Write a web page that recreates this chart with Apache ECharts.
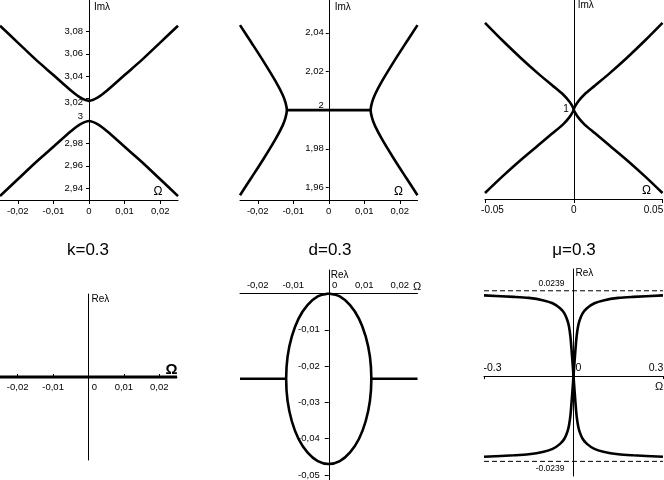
<!DOCTYPE html>
<html>
<head>
<meta charset="utf-8">
<script src="https://cdn.jsdelivr.net/npm/echarts@6/dist/echarts.min.js"></script>
<style>html,body{margin:0;padding:0;background:#fff}</style>
</head>
<body>
<div id="main" style="width:664px;height:480px"></div>
<script>
// top row: Im(lambda) against Omega
var omegaK = [-0.025, -0.02, -0.015, -0.01, -0.005, -0.0025, 0, 0.0025, 0.005, 0.01, 0.015, 0.02, 0.025];
var imUpperK = [3.085, 3.070, 3.055, 3.041, 3.027, 3.021, 3.018, 3.021, 3.027, 3.041, 3.055, 3.070, 3.085];
var imLowerK = [2.933, 2.948, 2.963, 2.977, 2.991, 2.997, 3.000, 2.997, 2.991, 2.977, 2.963, 2.948, 2.933];

var imD = [2.044, 2.035, 2.025, 2.015, 2.008, 2.004, 2.0, 1.996, 1.992, 1.985, 1.975, 1.965, 1.956];
var omegaDLeft = [-0.025, -0.0218, -0.0183, -0.0150, -0.0130, -0.0122, -0.0118, -0.0122, -0.0130, -0.0150, -0.0183, -0.0218, -0.025];
var omegaDRight = [0.025, 0.0218, 0.0183, 0.0150, 0.0130, 0.0122, 0.0118, 0.0122, 0.0130, 0.0150, 0.0183, 0.0218, 0.025];
var omegaDFlat = [-0.0118, 0.0118];
var imDFlat = [2, 2];

var imMu = [1.087, 1.069, 1.052, 1.036, 1.024, 1.015, 1.008, 1.003, 1.0, 0.997, 0.992, 0.985, 0.976, 0.964, 0.949, 0.933, 0.916];
var omegaMuLeft = [-0.05, -0.04, -0.03, -0.02, -0.012, -0.006, -0.0025, -0.0007, 0, -0.0007, -0.0025, -0.006, -0.012, -0.02, -0.03, -0.04, -0.05];
var omegaMuRight = [0.05, 0.04, 0.03, 0.02, 0.012, 0.006, 0.0025, 0.0007, 0, 0.0007, 0.0025, 0.006, 0.012, 0.02, 0.03, 0.04, 0.05];

// bottom row: Re(lambda) against Omega
var omegaKRe = [-0.025, 0.025];
var reK = [0, 0];

var omegaEll = [0, 0.0031, 0.006, 0.0085, 0.0104, 0.0116, 0.012, 0.0116, 0.0104, 0.0085, 0.006, 0.0031, 0,
  -0.0031, -0.006, -0.0085, -0.0104, -0.0116, -0.012, -0.0116, -0.0104, -0.0085, -0.006, -0.0031, 0];
var reEll = [0, -0.0008, -0.0032, -0.0069, -0.0118, -0.0174, -0.0235, -0.0296, -0.0352, -0.0401, -0.0438, -0.0462, -0.047,
  -0.0462, -0.0438, -0.0401, -0.0352, -0.0296, -0.0235, -0.0174, -0.0118, -0.0069, -0.0032, -0.0008, 0];
var omegaDFlatL = [-0.025, -0.012];
var omegaDFlatR = [0.012, 0.025];
var reDFlat = [-0.0235, -0.0235];

var omegaMu = [-0.3, -0.2, -0.15, -0.1, -0.07, -0.045, -0.03, -0.02, -0.015, -0.01, -0.006, -0.003, 0,
  0.003, 0.006, 0.01, 0.015, 0.02, 0.03, 0.045, 0.07, 0.1, 0.15, 0.2, 0.3];
var reMuA = [0.0226, 0.0222, 0.0219, 0.0212, 0.0204, 0.019, 0.0175, 0.0155, 0.0138, 0.0108, 0.0068, 0.0035, 0,
  -0.0035, -0.0068, -0.0108, -0.0138, -0.0155, -0.0175, -0.019, -0.0204, -0.0212, -0.0219, -0.0222, -0.0226];
var reMuB = [-0.0226, -0.0222, -0.0219, -0.0212, -0.0204, -0.019, -0.0175, -0.0155, -0.0138, -0.0108, -0.0068, -0.0035, 0,
  0.0035, 0.0068, 0.0108, 0.0138, 0.0155, 0.0175, 0.019, 0.0204, 0.0212, 0.0219, 0.0222, 0.0226];
var reMuLevel = [0.0239, -0.0239];
var omegaMuEnds = [-0.3, 0.3];

// tick labels
var ticksOmega = [-0.02, -0.01, 0, 0.01, 0.02];
var ticksImK = [2.94, 2.96, 2.98, 3, 3.02, 3.04, 3.06, 3.08];
var ticksImD = [1.96, 1.98, 2, 2.02, 2.04];
var ticksOmegaMu = [-0.05, 0, 0.05];
var ticksImMu = [1];
var ticksReD = [-0.05, -0.04, -0.03, -0.02, -0.01];
var ticksOmegaMuRe = [-0.3, 0, 0.3];

var titles = ['k=0.3', 'd=0.3', 'μ=0.3'];

var font = 'Liberation Sans, Arial, Helvetica, sans-serif';
var black = '#000';

function pairs(xs, ys) {
  return xs.map(function (x, i) { return [x, ys[i]]; });
}
function comma(v) {
  return String(v).replace('.', ',');
}
function rt(pad, size) {
  return { padding: pad, fontSize: size || 9.5, fontFamily: font, color: black };
}
function curve(xi, xs, ys, extra) {
  var s = {
    type: 'line', xAxisIndex: xi, yAxisIndex: xi,
    data: pairs(xs, ys), symbol: 'none', smooth: 0.3,
    lineStyle: { color: black, width: 2.6 },
    animation: false, silent: true
  };
  return Object.assign(s, extra || {});
}
function axis(grid, min, max, o) {
  var a = {
    gridIndex: grid, type: 'value', min: min, max: max,
    splitLine: { show: false },
    axisLine: { onZero: false, lineStyle: { color: black, width: 1 } },
    axisTick: { show: false },
    axisLabel: { show: false, color: black, fontFamily: font, fontSize: 9.5 },
    nameTextStyle: { color: black, fontFamily: font, fontSize: 10 }
  };
  for (var k in o) {
    if (typeof o[k] === 'object' && a[k] && !Array.isArray(o[k])) a[k] = Object.assign({}, a[k], o[k]);
    else a[k] = o[k];
  }
  return a;
}
var tickOn = function (vals, len, inside) {
  return { show: true, customValues: vals, length: len || 4, inside: !!inside, lineStyle: { color: black } };
};
var labelOn = function (vals, fmt, extra) {
  return Object.assign({ show: true, customValues: vals, formatter: fmt, color: black, fontFamily: font, fontSize: 9.5 }, extra || {});
};
var omegaName = function (gap, bottomPad, size, weight) {
  return { name: 'Ω', nameLocation: 'end', nameGap: gap,
    nameTextStyle: { color: black, fontFamily: font, fontSize: size || 12, fontWeight: weight || 'normal',
      align: 'center', verticalAlign: 'bottom', padding: [0, 0, bottomPad, 0] } };
};
var lamName = function (txt, gap, padLeft) {
  return { name: txt, nameLocation: 'end', nameGap: gap,
    nameTextStyle: { color: black, fontFamily: font, fontSize: 10, align: 'left', verticalAlign: 'middle', padding: [0, 0, 0, padLeft] } };
};

var zeroRich = { z: rt([0, 0, 0, 12]) };

var xAxes = [
  axis(0, -0.025, 0.025, Object.assign({
    axisTick: tickOn(ticksOmega, 4),
    axisLabel: labelOn(ticksOmega, comma, { margin: 6 })
  }, omegaName(-20, 2))),
  axis(1, -0.025, 0.025, Object.assign({
    axisTick: tickOn(ticksOmega, 4),
    axisLabel: labelOn(ticksOmega, comma, { margin: 6 })
  }, omegaName(-19, 2))),
  axis(2, -0.05, 0.05, Object.assign({
    axisTick: tickOn(ticksOmegaMu, 4),
    axisLabel: labelOn(ticksOmegaMu, function (v) {
      if (v < 0) return '{l|' + v + '}';
      if (v > 0) return '{r|' + v + '}';
      return '{c|0}';
    }, { margin: 6, rich: { l: rt([0, 0, 0, 15], 10), r: rt([0, 18, 0, 0], 10), c: rt([0, 0, 0, 0], 10) } })
  }, omegaName(-16, 2))),
  axis(3, -0.025, 0.025, Object.assign({
    offset: -83,
    axisTick: tickOn(ticksOmega, 3, true),
    axisLabel: labelOn(ticksOmega, function (v) { return v === 0 ? '{z|0}' : comma(v); }, { margin: 5, rich: zeroRich })
  }, omegaName(-5.5, 0, 15, 'bold'))),
  axis(4, -0.025, 0.025, Object.assign({
    position: 'top', offset: -23.6,
    axisLabel: labelOn(ticksOmega, function (v) { return v === 0 ? '{z|0}' : comma(v); }, { margin: 3, rich: zeroRich })
  }, omegaName(-4.5, 1, 11))),
  axis(5, -0.3, 0.3, {
    offset: -99.9,
    axisTick: tickOn(omegaMuEnds, 3),
    axisLabel: labelOn(ticksOmegaMuRe, function (v) {
      if (v === -0.3) return '{l|-0.3}';
      if (v === 0.3) return '{r|0.3}';
      return '{z|0}';
    }, { inside: true, margin: 2, rich: {
      l: rt([0, 0, 0, 17], 10.5),
      r: rt([0, 14, 0, 0], 10.5),
      z: rt([0, 0, 0, 10], 10.5)
    } }),
    name: 'Ω', nameLocation: 'end', nameGap: -4,
    nameTextStyle: { color: black, fontFamily: font, fontSize: 11, align: 'center', verticalAlign: 'top', padding: [5, 0, 0, 0] }
  })
];

var yAxes = [
  axis(0, 2.9295, 3.108, Object.assign({
    offset: -89,
    axisTick: tickOn(ticksImK, 3),
    axisLabel: labelOn(ticksImK, function (v) {
      if (v === 3) return '{u|3}';
      if (v === 3.02) return '{d|3,02}';
      return comma(v);
    }, { margin: 6, rich: { u: rt([0, 0, 10, 0]), d: rt([8, 0, 0, 0]) } })
  }, lamName('Imλ', -7, 5))),
  axis(1, 1.9535, 2.057, Object.assign({
    offset: -88.75,
    axisTick: tickOn(ticksImD, 3),
    axisLabel: labelOn(ticksImD, function (v) {
      return v === 2 ? '{u|2}' : comma(v);
    }, { margin: 5, rich: { u: rt([0, 0, 9, 0]) } })
  }, lamName('Imλ', -7, 6))),
  axis(2, 0.91, 1.11, Object.assign({
    offset: -88.75,
    axisLabel: labelOn(ticksImMu, function (v) { return String(v); }, { margin: 5, fontSize: 10 })
  }, lamName('Imλ', -5, 4))),
  axis(3, -1, 1, Object.assign({ offset: -88.5 }, lamName('Reλ', -5, 3))),
  axis(4, -0.0514, 0.0065, Object.assign({
    offset: -88.75,
    axisTick: tickOn(ticksReD, 4),
    axisLabel: labelOn(ticksReD, comma, { margin: 9 })
  }, lamName('Reλ', -5, 2))),
  axis(5, -0.028, 0.030, Object.assign({
    offset: -89.5,
    axisLabel: labelOn(reMuLevel, function (v) { return v > 0 ? '{a|' + v + '}' : '{b|' + v + '}'; }, {
      margin: 9, rich: {
        a: rt([0, 0, 14, 0], 8.5),
        b: rt([14, 0, 0, 0], 8.5)
      } })
  }, lamName('Reλ', -4, 2)))
];

var dashed = { color: black, width: 1, type: [5, 3] };
var series = [
  curve(0, omegaK, imUpperK),
  curve(0, omegaK, imLowerK),
  curve(1, omegaDLeft, imD),
  curve(1, omegaDRight, imD),
  curve(1, omegaDFlat, imDFlat, { smooth: false }),
  curve(2, omegaMuLeft, imMu),
  curve(2, omegaMuRight, imMu),
  curve(3, omegaKRe, reK, { smooth: false, lineStyle: { color: black, width: 3 } }),
  curve(4, omegaEll, reEll),
  curve(4, omegaDFlatL, reDFlat, { smooth: false }),
  curve(4, omegaDFlatR, reDFlat, { smooth: false }),
  curve(5, omegaMuEnds, [reMuLevel[0], reMuLevel[0]], { smooth: false, lineStyle: dashed }),
  curve(5, omegaMuEnds, [reMuLevel[1], reMuLevel[1]], { smooth: false, lineStyle: dashed }),
  curve(5, omegaMu, reMuA),
  curve(5, omegaMu, reMuB)
];

var titleX = [88, 330, 574];
var option = {
  backgroundColor: '#fff',
  animation: false,
  title: titles.map(function (t, i) {
    return { text: t, left: titleX[i], top: 242, textAlign: 'center', padding: 0,
      textStyle: { fontFamily: font, fontSize: 17, fontWeight: 'normal', color: black } };
  }),
  grid: [
    { left: 0, top: 0, width: 178, height: 200 },
    { left: 240, top: 0, width: 177.5, height: 200 },
    { left: 485, top: 0, width: 177.5, height: 199 },
    { left: 0, top: 294, width: 177, height: 166 },
    { left: 240, top: 270, width: 177.5, height: 210 },
    { left: 484, top: 269, width: 179, height: 207 }
  ].map(function (g) { return Object.assign(g, { containLabel: false, outerBoundsMode: 'none' }); }),
  xAxis: xAxes,
  yAxis: yAxes,
  series: series
};

var myChart = echarts.init(document.getElementById('main'));
myChart.setOption(option);
</script>
</body>
</html>
